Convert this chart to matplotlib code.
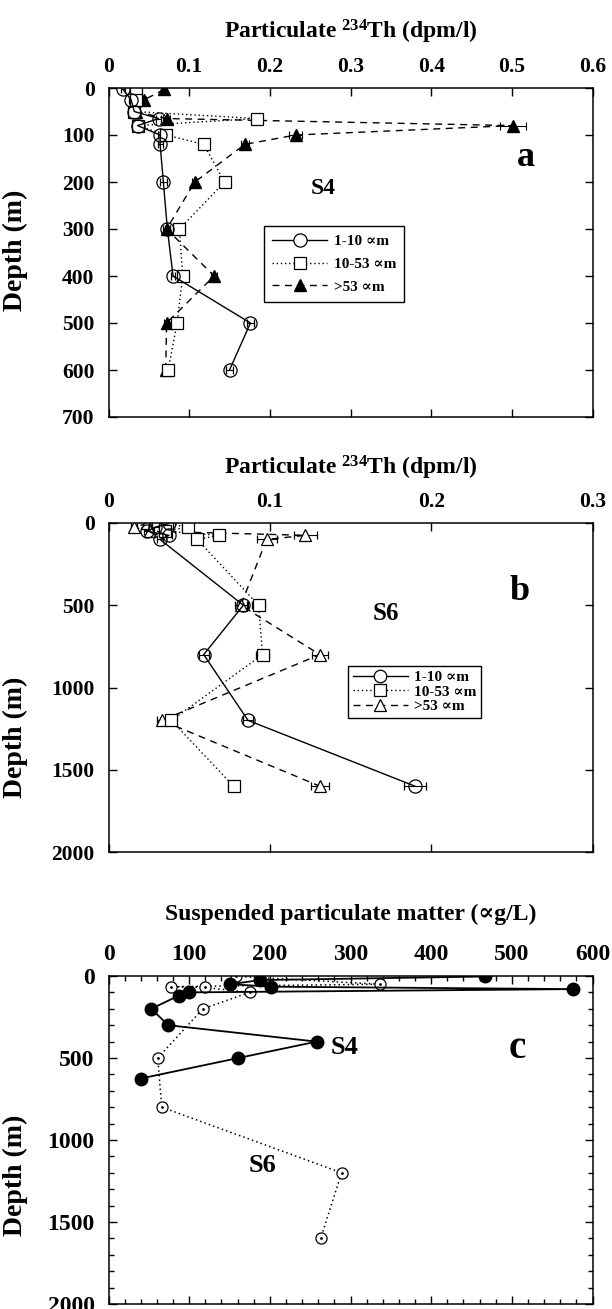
import matplotlib
matplotlib.use('Agg')
import matplotlib.pyplot as plt
from matplotlib.ticker import MultipleLocator, FuncFormatter
from matplotlib.lines import Line2D

plt.rcParams['font.family'] = ['Liberation Serif', 'DejaVu Serif']
plt.rcParams['font.weight'] = 'bold'
plt.rcParams['mathtext.fontset'] = 'custom'
plt.rcParams['mathtext.rm'] = 'Liberation Serif:bold'
plt.rcParams['mathtext.bf'] = 'Liberation Serif:bold'
plt.rcParams['mathtext.default'] = 'regular'

# ---------------- data ----------------
# Panel a: station S4, particulate 234Th (dpm/l)
depth_a = [3, 25, 50, 65, 80, 100, 120, 200, 300, 400, 500, 600]
a_small = [0.018, 0.028, 0.032, 0.062, 0.036, 0.064, 0.064, 0.068, 0.073, 0.080, 0.176, 0.150]
a_small_err = [0.003, 0.003, 0.003, 0.003, 0.003, 0.003, 0.003, 0.004, 0.003, 0.003, 0.004, 0.004]
a_mid = [0.0335, 0.034, 0.031, 0.184, 0.036, 0.0715, 0.118, 0.144, 0.088, 0.092, 0.085, 0.074]
a_mid_err = [0.004, 0.004, 0.004, 0.005, 0.004, 0.004, 0.004, 0.004, 0.004, 0.004, 0.004, 0.004]
a_large = [0.069, 0.0445, 0.0335, 0.072, 0.501, 0.232, 0.169, 0.107, 0.072, 0.131, 0.072, 0.071]
a_large_err = [0.002, 0.002, 0.003, 0.004, 0.016, 0.008, 0.005, 0.003, 0.004, 0.004, 0.003, 0.004]

# Panel b: station S6
depth_b = [3, 25, 50, 75, 100, 500, 800, 1200, 1600]
b_small = [0.0375, 0.029, 0.024, 0.0375, 0.032, 0.0836, 0.059, 0.0865, 0.190]
b_small_err = [0.002, 0.002, 0.002, 0.002, 0.002, 0.003, 0.003, 0.003, 0.007]
b_mid = [0.036, 0.049, 0.035, 0.0685, 0.055, 0.093, 0.0955, 0.039, 0.0775]
b_mid_err = [0.003, 0.0035, 0.003, 0.004, 0.003, 0.004, 0.004, 0.003, 0.0036]
b_large = [0.024, 0.0157, 0.026, 0.122, 0.098, 0.082, 0.131, 0.033, 0.131]
b_large_err = [0.002, 0.002, 0.002, 0.007, 0.0062, 0.0036, 0.0048, 0.003, 0.0056]

# Panel c: suspended particulate matter (ug/L)
depth_c_s4 = [3, 25, 50, 65, 80, 100, 120, 200, 300, 400, 500, 625]
spm_s4 = [467, 188, 151, 201, 576, 100, 87, 53, 74, 258, 161, 40]
depth_c_s6 = [2, 50, 65, 70, 100, 200, 500, 800, 1200, 1600]
spm_s6 = [158, 336, 78, 120, 175, 117, 61, 66, 289, 263]

size_labels = ['1-10 \u221dm', '10-53 \u221dm', '>53 \u221dm']

# ---------------- figure ----------------
W, H = 612, 1309
fig = plt.figure(figsize=(W / 100, H / 100), dpi=100)

left_px, right_px = 108.5, 592.5
AW = right_px - left_px


def make_axes(top_px, bot_px):
    return fig.add_axes([left_px / W, 1 - bot_px / H,
                         AW / W, (bot_px - top_px) / H])


fmt = FuncFormatter(lambda v, p: '%g' % round(v, 6))


def style(ax, xmax, xstep, ymax, ystep, fs, label_y, xminor=None, yminor=None):
    ax.set_xlim(0, xmax)
    ax.set_ylim(ymax, 0)
    ax.xaxis.set_major_locator(MultipleLocator(xstep))
    ax.yaxis.set_major_locator(MultipleLocator(ystep))
    if xminor:
        ax.xaxis.set_minor_locator(MultipleLocator(xminor))
    if yminor:
        ax.yaxis.set_minor_locator(MultipleLocator(yminor))
    ax.xaxis.set_major_formatter(fmt)
    ax.yaxis.set_major_formatter(fmt)
    ax.tick_params(which='both', direction='in', top=True, bottom=True,
                   left=True, right=True, labeltop=True, labelbottom=False,
                   width=1.0)
    ax.tick_params(which='major', length=6, labelsize=fs)
    ax.tick_params(axis='x', which='major', pad=8)
    ax.tick_params(axis='y', which='major', pad=10)
    ax.tick_params(which='minor', length=3.5)
    for lab in ax.get_xticklabels() + ax.get_yticklabels():
        lab.set_fontweight('bold')
    for s in ax.spines.values():
        s.set_linewidth(1.1)
    ax.set_ylabel('Depth (m)', fontsize=20, fontweight='bold')
    ax.yaxis.set_label_coords((28 - left_px) / AW, label_y)


dash = (0, (5, 4))
dot = (0, (1, 2))
ebkw = dict(capsize=3, elinewidth=0.8, capthick=0.8, ecolor='black')

# ---------- panel a ----------
ax = make_axes(88, 417)
style(ax, 0.6, 0.1, 700, 100, 15.5, 1 - (250 - 88) / 329)
ax.errorbar(a_large, depth_a, xerr=a_large_err, color='black', ls=dash, lw=1,
            marker='^', ms=8, mfc='black', mec='black', **ebkw)
ax.errorbar(a_mid, depth_a, xerr=a_mid_err, color='black', ls=dot, lw=1,
            marker='s', ms=8.5, mfc='white', mec='black', mew=0.9, **ebkw)
ax.errorbar(a_small, depth_a, xerr=a_small_err, color='black', ls='-', lw=1,
            marker='o', ms=9.5, mfc='none', mec='black', mew=0.9, **ebkw)
ax.text(0.5, 1 + 49 / 329, r'Particulate $^{234}$Th (dpm/l)', transform=ax.transAxes,
        ha='center', va='baseline', fontsize=17, fontweight='bold')
ax.text((323 - left_px) / AW, 1 - (188 - 88) / 329, 'S4', transform=ax.transAxes,
        fontsize=17, fontweight='bold', ha='center', va='center')
ax.text((526 - left_px) / AW, 1 - (158 - 88) / 329, 'a', transform=ax.transAxes,
        fontsize=26, fontweight='bold', ha='center', va='center')
hand_a = [Line2D([], [], color='black', ls='-', lw=1, marker='o', ms=9.5, mfc='white', mew=0.9),
          Line2D([], [], color='black', ls=dot, lw=1, marker='s', ms=8.5, mfc='white', mew=0.9),
          Line2D([], [], color='black', ls=dash, lw=1, marker='^', ms=8, mfc='black')]
leg = ax.legend(hand_a, size_labels, loc='upper left',
                bbox_to_anchor=((264 - left_px) / AW, 1 - (226 - 88) / 329),
                fancybox=False, edgecolor='black', framealpha=1, fontsize=11,
                handlelength=3.6, handletextpad=0.4, labelspacing=0.6,
                borderpad=0.55, borderaxespad=0)
leg.get_frame().set_linewidth(1.0)
for t in leg.get_texts():
    t.set_fontweight('bold')

# ---------- panel b ----------
ax = make_axes(523, 852)
style(ax, 0.3, 0.1, 2000, 500, 15.5, 1 - (737 - 523) / 329)
ax.errorbar(b_large, depth_b, xerr=b_large_err, color='black', ls=dash, lw=1,
            marker='^', ms=8, mfc='white', mec='black', mew=0.9, **ebkw)
ax.errorbar(b_mid, depth_b, xerr=b_mid_err, color='black', ls=dot, lw=1,
            marker='s', ms=8.5, mfc='white', mec='black', mew=0.9, **ebkw)
ax.errorbar(b_small, depth_b, xerr=b_small_err, color='black', ls='-', lw=1,
            marker='o', ms=9.5, mfc='none', mec='black', mew=0.9, **ebkw)
ax.text(0.5, 1 + 48 / 329, r'Particulate $^{234}$Th (dpm/l)', transform=ax.transAxes,
        ha='center', va='baseline', fontsize=17, fontweight='bold')
ax.text((386 - left_px) / AW, 1 - (613 - 523) / 329, 'S6', transform=ax.transAxes,
        fontsize=18, fontweight='bold', ha='center', va='center')
ax.text((520 - left_px) / AW, 1 - (592 - 523) / 329, 'b', transform=ax.transAxes,
        fontsize=26, fontweight='bold', ha='center', va='center')
hand_b = [Line2D([], [], color='black', ls='-', lw=1, marker='o', ms=9, mfc='white', mew=0.9),
          Line2D([], [], color='black', ls=dot, lw=1, marker='s', ms=8, mfc='white', mew=0.9),
          Line2D([], [], color='black', ls=dash, lw=1, marker='^', ms=8, mfc='white', mew=0.9)]
leg = ax.legend(hand_b, size_labels, loc='upper left',
                bbox_to_anchor=((348 - left_px) / AW, 1 - (666 - 523) / 329),
                fancybox=False, edgecolor='black', framealpha=1, fontsize=11,
                handlelength=3.6, handletextpad=0.4, labelspacing=0.05,
                borderpad=0.3, borderaxespad=0)
leg.get_frame().set_linewidth(1.0)
for t in leg.get_texts():
    t.set_fontweight('bold')

# ---------- panel c ----------
ax = make_axes(976, 1304)
style(ax, 600, 100, 2000, 500, 17, 1 - (1175 - 976) / 328, xminor=20, yminor=100)
ax.plot(spm_s6, depth_c_s6, color='black', ls=dot, lw=1.1,
        marker='o', ms=8, mfc='white', mec='black', mew=0.9)
ax.plot(spm_s6, depth_c_s6, ls='none', marker='.', ms=2, color='black')
ax.plot(spm_s4, depth_c_s4, color='black', ls='-', lw=1.3,
        marker='o', ms=9, mfc='black', mec='black')
ax.text(0.5, 1 + 56 / 328, 'Suspended particulate matter (\u221dg/L)', transform=ax.transAxes,
        ha='center', va='baseline', fontsize=17, fontweight='bold')
ax.text((345 - left_px) / AW, 1 - (1048 - 976) / 328, 'S4', transform=ax.transAxes,
        fontsize=19, fontweight='bold', ha='center', va='center')
ax.text((262 - left_px) / AW, 1 - (1165 - 976) / 328, 'S6', transform=ax.transAxes,
        fontsize=19, fontweight='bold', ha='center', va='center')
ax.text((517 - left_px) / AW, 1 - (1048 - 976) / 328, 'c', transform=ax.transAxes,
        fontsize=28, fontweight='bold', ha='center', va='center')

fig.savefig('out.png', dpi=100)
